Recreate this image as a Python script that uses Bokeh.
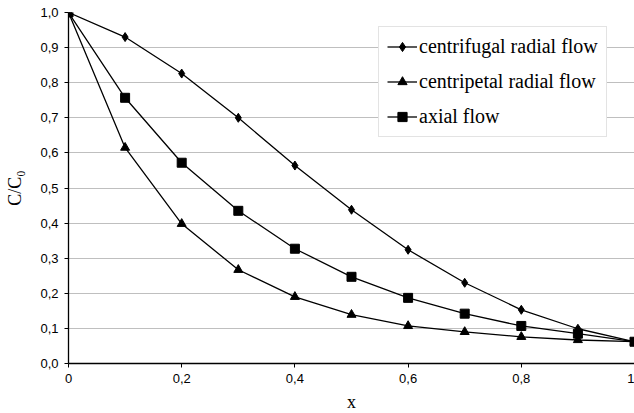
from bokeh.plotting import figure
from bokeh.models import CustomJSTickFormatter, FixedTicker, Range1d, Legend
from bokeh.embed import file_html
from bokeh.resources import INLINE

x = [0.0, 0.1, 0.2, 0.3, 0.4, 0.5, 0.6, 0.7, 0.8, 0.9, 1.0]
centrifugal = [1.0, 0.930, 0.826, 0.700, 0.564, 0.438, 0.324, 0.230, 0.153, 0.099, 0.062]
centripetal = [1.0, 0.615, 0.398, 0.267, 0.190, 0.139, 0.107, 0.090, 0.076, 0.067, 0.062]
axial = [1.0, 0.757, 0.572, 0.435, 0.327, 0.247, 0.187, 0.142, 0.107, 0.085, 0.062]

x_ticks = [0, 0.2, 0.4, 0.6, 0.8, 1.0]
y_ticks = [0, 0.1, 0.2, 0.3, 0.4, 0.5, 0.6, 0.7, 0.8, 0.9, 1.0]

p = figure(width=634, height=413, frame_width=566, frame_height=351,
           output_backend="svg", toolbar_location=None,
           x_range=Range1d(0, 1), y_range=Range1d(0, 1))
p.min_border_left = 68
p.min_border_right = 0
p.min_border_top = 12
p.min_border_bottom = 50
p.outline_line_color = None
p.background_fill_color = "white"
p.border_fill_color = "white"

p.xgrid.grid_line_color = None
p.ygrid.grid_line_color = "#bfbfbf"
p.ygrid.grid_line_width = 1

p.xaxis.ticker = FixedTicker(ticks=x_ticks)
p.yaxis.ticker = FixedTicker(ticks=y_ticks)
p.xaxis.formatter = CustomJSTickFormatter(code="""
if (Math.abs(tick - Math.round(tick)) < 1e-9) { return String(Math.round(tick)); }
return tick.toFixed(1).replace('.', ',');
""")
p.yaxis.formatter = CustomJSTickFormatter(code="return tick.toFixed(1).replace('.', ',');")

for ax in (p.xaxis[0], p.yaxis[0]):
    ax.axis_line_color = "black"
    ax.axis_line_width = 1.3
    ax.major_tick_line_color = "black"
    ax.major_tick_in = 0
    ax.major_tick_out = 4
    ax.minor_tick_line_color = None
    ax.major_label_text_font = "Liberation Sans"
    ax.major_label_text_font_size = "13px"
    ax.major_label_text_color = "black"
    ax.axis_label_text_font = "Liberation Serif"
    ax.axis_label_text_font_size = "18px"
    ax.axis_label_text_font_style = "normal"
    ax.axis_label_text_color = "black"
    ax.major_label_standoff = 6

p.xaxis.axis_label = "x"
p.yaxis.axis_label = "C/C\u2080"
p.xaxis.axis_label_standoff = 6
p.yaxis.axis_label_standoff = 12

lw = 1.3
r1l = p.line(x, centrifugal, line_color="black", line_width=lw)
r1m = p.scatter(x, centrifugal, marker="diamond", size=9, color="black")
r2l = p.line(x, centripetal, line_color="black", line_width=lw)
r2m = p.scatter(x, centripetal, marker="triangle", size=9, color="black")
r3l = p.line(x, axial, line_color="black", line_width=lw)
r3m = p.scatter(x, axial, marker="square", size=9, color="black")

legend = Legend(items=[
    ("centrifugal radial flow", [r1l, r1m]),
    ("centripetal radial flow", [r2l, r2m]),
    ("axial flow", [r3l, r3m]),
], location=(310, 226))
legend.label_text_font = "Liberation Serif"
legend.label_text_font_size = "20px"
legend.label_text_color = "black"
legend.glyph_width = 30
legend.glyph_height = 23
legend.label_height = 23
legend.label_standoff = 2
legend.spacing = 12
legend.padding = 8
legend.margin = 0
legend.border_line_color = "#c8c8c8"
legend.border_line_width = 1
legend.background_fill_color = "white"
legend.background_fill_alpha = 1.0
p.add_layout(legend, "center")

open("out.html", "w").write(file_html(p, INLINE))
